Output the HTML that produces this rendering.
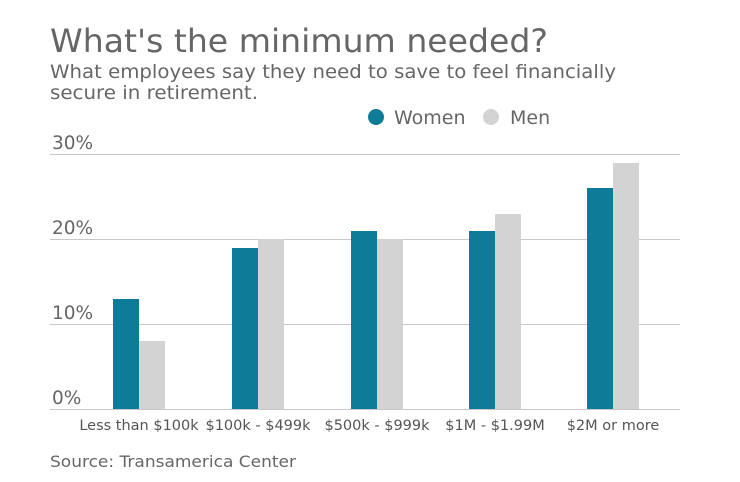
<!DOCTYPE html>
<html><head><meta charset="utf-8"><style>
html,body{margin:0;padding:0;background:#fff;}
svg{display:block;font-family:"DejaVu Sans","Liberation Sans",sans-serif;}
</style></head><body>
<svg width="740" height="482" viewBox="0 0 740 482" xmlns="http://www.w3.org/2000/svg">
<text x="50" y="52" font-size="32" fill="#666" textLength="498" lengthAdjust="spacingAndGlyphs">What's the minimum needed?</text>
<text x="50" y="78" font-size="19" fill="#666" textLength="566" lengthAdjust="spacingAndGlyphs">What employees say they need to save to feel financially</text>
<text x="50" y="99" font-size="19" fill="#666" textLength="208" lengthAdjust="spacingAndGlyphs">secure in retirement.</text>
<circle cx="376" cy="117" r="8" fill="#0e7c99"/>
<text x="394" y="124" font-size="19" fill="#666">Women</text>
<circle cx="491" cy="117" r="8" fill="#d3d3d3"/>
<text x="510" y="124" font-size="19" fill="#666">Men</text>
<g stroke="#c8c8c8" stroke-width="1">
<line x1="50" y1="154.5" x2="680" y2="154.5"/>
<line x1="50" y1="239.5" x2="680" y2="239.5"/>
<line x1="50" y1="324.5" x2="680" y2="324.5"/>
<line x1="50" y1="409.5" x2="680" y2="409.5"/>
</g>
<g font-size="18.5" fill="#666">
<text x="52" y="149">30%</text>
<text x="52" y="234">20%</text>
<text x="52" y="319">10%</text>
<text x="52" y="404">0%</text>
</g>
<g fill="#0e7c99">
<rect x="113" y="299" width="26" height="110"/>
<rect x="232" y="248" width="26" height="161"/>
<rect x="351" y="231" width="26" height="178"/>
<rect x="469" y="231" width="26" height="178"/>
<rect x="587" y="188" width="26" height="221"/>
</g>
<g fill="#d3d3d3">
<rect x="139" y="341" width="26" height="68"/>
<rect x="258" y="239" width="26" height="170"/>
<rect x="377" y="239" width="26" height="170"/>
<rect x="495" y="214" width="26" height="195"/>
<rect x="613" y="163" width="26" height="246"/>
</g>
<g font-size="14.5" fill="#555" text-anchor="middle">
<text x="139" y="430">Less than $100k</text>
<text x="258" y="430">$100k - $499k</text>
<text x="377" y="430">$500k - $999k</text>
<text x="495" y="430">$1M - $1.99M</text>
<text x="613" y="430">$2M or more</text>
</g>
<text x="50" y="467" font-size="16" fill="#666" textLength="246" lengthAdjust="spacingAndGlyphs">Source: Transamerica Center</text>
</svg>
</body></html>
